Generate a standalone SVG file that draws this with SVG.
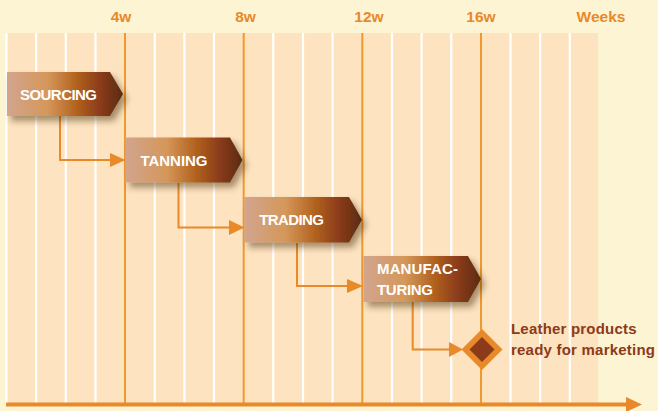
<svg xmlns="http://www.w3.org/2000/svg" width="658" height="411" viewBox="0 0 658 411">
<defs>
<linearGradient id="bar" x1="0" y1="0" x2="1" y2="0">
<stop offset="0" stop-color="#D2A58E"/>
<stop offset="0.35" stop-color="#D5975A"/>
<stop offset="0.6" stop-color="#B2621F"/>
<stop offset="0.8" stop-color="#8B3C1B"/>
<stop offset="1" stop-color="#5A2B0F"/>
</linearGradient>
<filter id="sh" x="-10%" y="-20%" width="130%" height="160%">
<feDropShadow dx="4" dy="5" stdDeviation="3" flood-color="#3a2010" flood-opacity="0.45"/>
</filter>
</defs>
<style>
.grid{stroke:#FFFFFF;stroke-width:2.2}
.major{stroke:#EF9A2E;stroke-width:2}
.hdr{font-family:"Liberation Sans",Arial,sans-serif;font-weight:bold;font-size:15.5px;fill:#E8892A;text-anchor:middle}
.bar{fill:url(#bar);filter:url(#sh)}
.lbl{font-family:"Liberation Sans",Arial,sans-serif;font-weight:bold;font-size:15px;fill:#FFFFFF}
.conn{fill:none;stroke:#E8892A;stroke-width:2}
.head{fill:#E8892A}
.note{font-family:"Liberation Sans",Arial,sans-serif;font-weight:bold;font-size:15px;fill:#8B3A1A}
</style>
<rect x="0" y="0" width="658" height="411" fill="#FDF4D4"/>
<rect x="6" y="33" width="592" height="372" fill="#FDE3BF"/>
<g id="grid">
<line class="grid" x1="6.5" y1="33" x2="6.5" y2="404"/>
<line class="grid" x1="36.2" y1="33" x2="36.2" y2="404"/>
<line class="grid" x1="65.8" y1="33" x2="65.8" y2="404"/>
<line class="grid" x1="95.5" y1="33" x2="95.5" y2="404"/>
<line class="grid" x1="154.8" y1="33" x2="154.8" y2="404"/>
<line class="grid" x1="184.4" y1="33" x2="184.4" y2="404"/>
<line class="grid" x1="214" y1="33" x2="214" y2="404"/>
<line class="grid" x1="273.3" y1="33" x2="273.3" y2="404"/>
<line class="grid" x1="303" y1="33" x2="303" y2="404"/>
<line class="grid" x1="332.6" y1="33" x2="332.6" y2="404"/>
<line class="grid" x1="392" y1="33" x2="392" y2="404"/>
<line class="grid" x1="421.6" y1="33" x2="421.6" y2="404"/>
<line class="grid" x1="451.2" y1="33" x2="451.2" y2="404"/>
<line class="grid" x1="510.5" y1="33" x2="510.5" y2="404"/>
<line class="grid" x1="540.2" y1="33" x2="540.2" y2="404"/>
<line class="grid" x1="569.8" y1="33" x2="569.8" y2="404"/>
<line class="major" x1="125" y1="33" x2="125" y2="404"/>
<line class="major" x1="243.7" y1="33" x2="243.7" y2="404"/>
<line class="major" x1="362.3" y1="33" x2="362.3" y2="404"/>
<line class="major" x1="481" y1="33" x2="481" y2="404"/>
</g>
<g id="header">
<text class="hdr" x="121" y="22">4w</text>
<text class="hdr" x="245.5" y="22">8w</text>
<text class="hdr" x="369" y="22">12w</text>
<text class="hdr" x="481" y="22">16w</text>
<text class="hdr" x="601" y="22">Weeks</text>
</g>
<g id="axis">
<line x1="6" y1="404.5" x2="630" y2="404.5" stroke="#E8892A" stroke-width="4"/>
<polygon class="head" points="626,397 642,404.5 626,412"/>
</g>
<g id="connectors">
<path class="conn" d="M60 116 V160 H112"/>
<polygon class="head" points="110,153 125.5,160 110,167"/>
<path class="conn" d="M178.5 183 V227.5 H231"/>
<polygon class="head" points="229,220 244.5,227.5 229,235"/>
<path class="conn" d="M297 243 V286 H349"/>
<polygon class="head" points="347,279 363,286 347,293"/>
<path class="conn" d="M412.7 302 V349.5 H451"/>
<polygon class="head" points="449,342 463,349.5 449,357"/>
</g>
<g id="sourcing">
<polygon class="bar" points="7,72 110,72 123,94 110,116 7,116"/>
<text class="lbl" x="20" y="100" textLength="77">SOURCING</text>
</g>
<g id="tanning">
<polygon class="bar" points="125.5,137.5 230,137.5 242.5,160 230,182.5 125.5,182.5"/>
<text class="lbl" x="140.5" y="165.5" textLength="67">TANNING</text>
</g>
<g id="trading">
<polygon class="bar" points="244.5,197 349,197 362,219.75 349,242.5 244.5,242.5"/>
<text class="lbl" x="259.3" y="225" textLength="64.5">TRADING</text>
</g>
<g id="manufacturing">
<polygon class="bar" points="363.5,256 468,256 481,279 468,302 363.5,302"/>
<text class="lbl" x="377" y="273.5" textLength="81">MANUFAC-</text>
<text class="lbl" x="377" y="295" textLength="56">TURING</text>
</g>
<g id="milestone">
<polygon points="482,329 502.5,349.5 482,370 461.5,349.5" fill="#E8892A"/>
<polygon points="482,337 494.5,349.5 482,362 469.5,349.5" fill="#8B3A1A"/>
<text class="note" x="511" y="334" textLength="125.5">Leather products</text>
<text class="note" x="511" y="355" textLength="144">ready for marketing</text>
</g>
</svg>
